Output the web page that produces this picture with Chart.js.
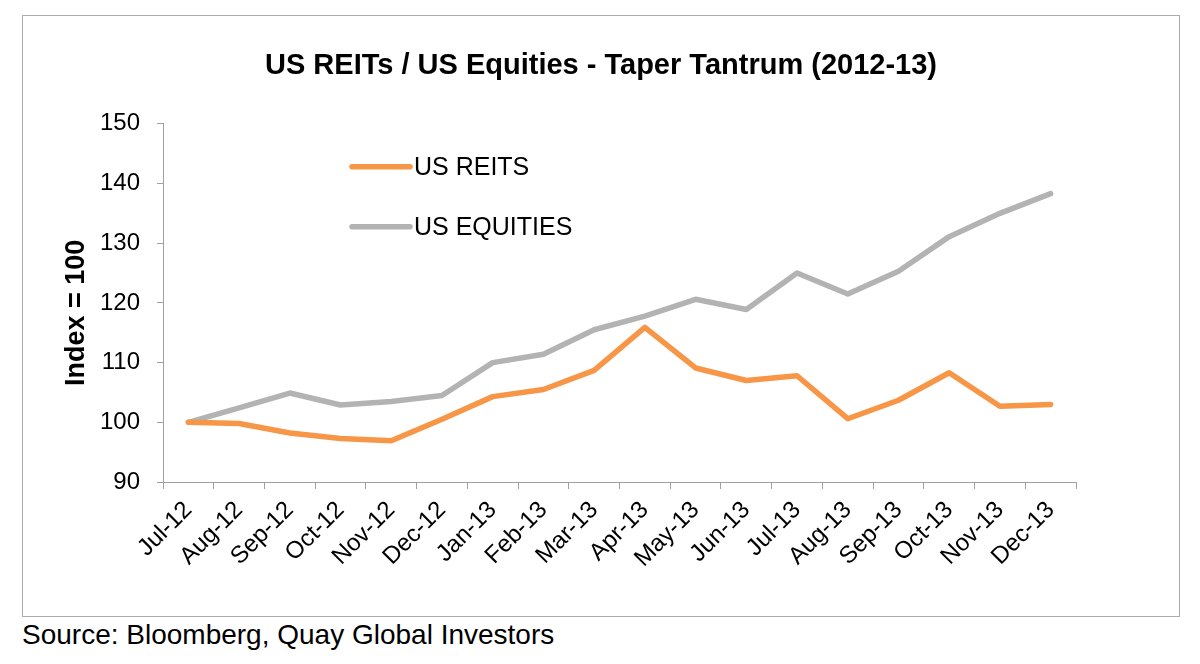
<!DOCTYPE html>
<html>
<head>
<meta charset="utf-8">
<script src="https://cdn.jsdelivr.net/npm/chart.js@4.4.1/dist/chart.umd.min.js"></script>
<style>
  body { margin: 0; background: #fff; width: 1200px; height: 664px; position: relative; overflow: hidden; }
  #box { position: absolute; left: 22px; top: 15px; width: 1156px; height: 600px; border: 1px solid #ababab; }
  #source { position: absolute; left: 22px; top: 621px; font: 28px/28px "Liberation Sans", Arial, sans-serif; color: #000; }
</style>
</head>
<body>
<div id="box"><canvas id="chart"></canvas></div>
<div id="source">Source: Bloomberg, Quay Global Investors</div>
<script>
const months = ["Jul-12", "Aug-12", "Sep-12", "Oct-12", "Nov-12", "Dec-12",
  "Jan-13", "Feb-13", "Mar-13", "Apr-13", "May-13", "Jun-13",
  "Jul-13", "Aug-13", "Sep-13", "Oct-13", "Nov-13", "Dec-13"];
const reits = [100, 99.8, 98.2, 97.3, 96.9, 100.5, 104.3, 105.5, 108.7, 115.9,
  109.1, 107.0, 107.8, 100.6, 103.7, 108.3, 102.7, 103.0];
const equities = [100, 102.4, 104.9, 102.9, 103.5, 104.5, 110.0, 111.4, 115.5, 117.8,
  120.6, 118.9, 125.0, 121.5, 125.3, 131.1, 135.0, 138.3];
const yTicks = [90, 100, 110, 120, 130, 140, 150];

const FONT = "'Liberation Sans', Arial, sans-serif";
const AXIS = "#a0a0a0";

// legend drawn inside the plot, Excel style, plus the y axis caption
const inlineLegend = {
  id: "inlineLegend",
  afterDraw(chart, args, opts) {
    const { ctx, chartArea } = chart;
    ctx.save();
    chart.data.datasets.forEach((ds, i) => {
      const y = chartArea.top + opts.top + i * opts.gap;
      const x = chartArea.left + opts.left;
      ctx.strokeStyle = ds.borderColor;
      ctx.lineWidth = ds.borderWidth;
      ctx.lineCap = "round";
      ctx.beginPath();
      ctx.moveTo(x, y);
      ctx.lineTo(x + opts.lineLen, y);
      ctx.stroke();
      ctx.fillStyle = "#000";
      ctx.font = "25px " + FONT;
      ctx.textBaseline = "middle";
      ctx.textAlign = "left";
      ctx.fillText(ds.label, x + opts.lineLen + 4, y + 1);
    });

    // y axis caption
    ctx.translate(opts.yTitleX, (chartArea.top + chartArea.bottom) / 2 + opts.yTitleShift);
    ctx.rotate(-Math.PI / 2);
    ctx.font = "bold 27px " + FONT;
    ctx.textAlign = "center";
    ctx.textBaseline = "middle";
    ctx.fillStyle = "#000";
    ctx.fillText(opts.yTitle, 0, 0);
    ctx.restore();
  }
};

new Chart(document.getElementById("chart"), {
  type: "line",
  data: {
    labels: months,
    datasets: [
      { label: "US REITS", data: reits, borderColor: "#f79646", borderWidth: 5.5 },
      { label: "US EQUITIES", data: equities, borderColor: "#b3b3b3", borderWidth: 5.5 }
    ]
  },
  options: {
    responsive: true,
    maintainAspectRatio: false,
    animation: false,
    layout: { padding: 0 },
    elements: {
      point: { radius: 0 },
      line: { tension: 0, borderCapStyle: "round", borderJoinStyle: "round" }
    },
    scales: {
      x: {
        offset: true,
        afterFit: s => { s.height = 134; },
        grid: { offset: true, drawOnChartArea: false, drawTicks: true, tickLength: 7, color: AXIS },
        border: { color: AXIS, width: 1 },
        ticks: {
          autoSkip: false, minRotation: 45, maxRotation: 45, padding: 7,
          color: "#000", font: { family: FONT, size: 24 }
        }
      },
      y: {
        min: 90, max: 150,
        afterFit: s => { s.width = 140; },
        afterBuildTicks: s => { s.ticks = yTicks.map(v => ({ value: v })); },
        grid: { drawOnChartArea: false, drawTicks: true, tickLength: 6, color: AXIS },
        border: { color: AXIS, width: 1 },
        ticks: { padding: 17, color: "#000", font: { family: FONT, size: 24 } }
      },
      pad: {
        position: "right",
        afterFit: s => { s.width = 103; },
        grid: { display: false },
        border: { display: false },
        ticks: { display: false }
      }
    },
    plugins: {
      legend: { display: false },
      tooltip: { enabled: false },
      title: {
        display: true,
        text: "US REITs / US Equities - Taper Tantrum (2012-13)",
        color: "#000",
        font: { family: FONT, size: 29, weight: "bold", lineHeight: 1.2 },
        padding: { top: 33, bottom: 40 }
      },
      inlineLegend: {
        left: 189, top: 43, gap: 60, lineLen: 58,
        yTitle: "Index = 100", yTitleX: 54, yTitleShift: 10
      }
    }
  },
  plugins: [inlineLegend]
});
</script>
</body>
</html>
